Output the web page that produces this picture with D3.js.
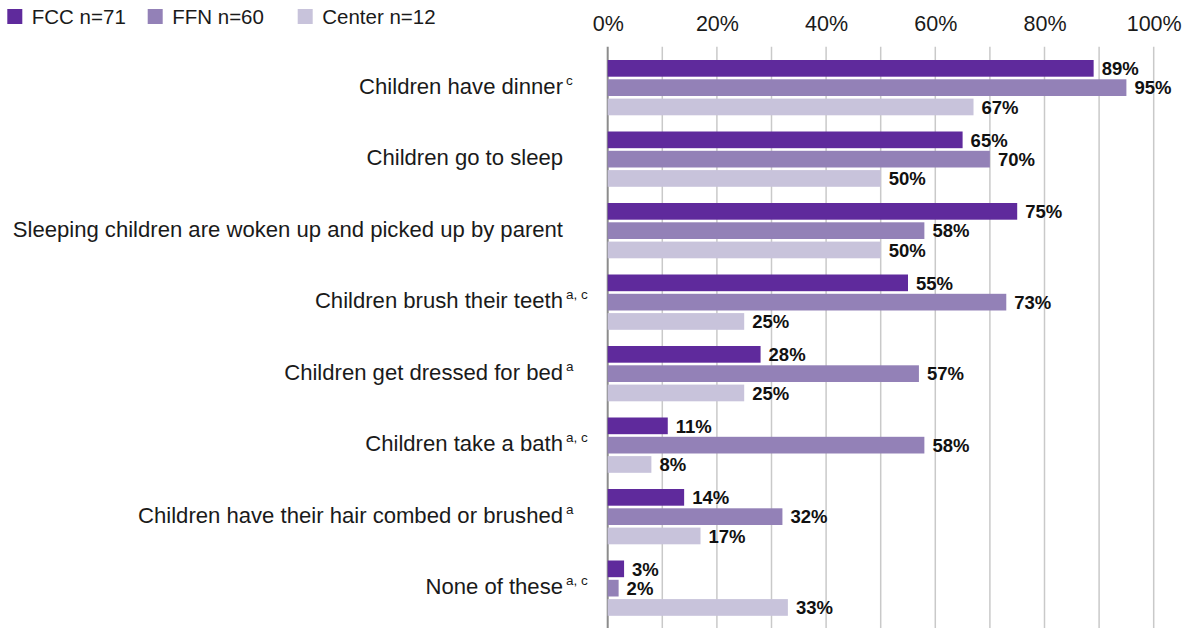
<!DOCTYPE html>
<html>
<head>
<meta charset="utf-8">
<script src="https://cdn.jsdelivr.net/npm/d3@7"></script>
<style>
  body { margin: 0; background: #fff; }
  svg { display: block; font-family: "Liberation Sans", Arial, sans-serif; }
</style>
</head>
<body>
<svg id="chart"></svg>
<script>
// data
var categories = [
  "Children have dinner",
  "Children go to sleep",
  "Sleeping children are woken up and picked up by parent",
  "Children brush their teeth",
  "Children get dressed for bed",
  "Children take a bath",
  "Children have their hair combed or brushed",
  "None of these"
];
var notes = ["c", "", "", "a, c", "a", "a, c", "a", "a, c"];
var seriesNames = ["FCC n=71", "FFN n=60", "Center n=12"];
var fcc    = [89, 65, 75, 55, 28, 11, 14, 3];
var ffn    = [95, 70, 58, 73, 57, 58, 32, 2];
var center = [67, 50, 50, 25, 25, 8, 17, 33];
var tickValues = [0, 20, 40, 60, 80, 100];
var gridValues = [0, 10, 20, 30, 40, 50, 60, 70, 80, 90, 100];

var colors = ["#5f2a9c", "#9381b7", "#c8c3db"];
var values = [fcc, ffn, center];

var W = 1190, H = 628;
var svg = d3.select("#chart").attr("width", W).attr("height", H);

var x = d3.scaleLinear().domain([0, 100]).range([607.7, 1153.7]);

// groups
var y = d3.scaleBand()
    .domain(d3.range(categories.length))
    .range([60, 615.8])
    .paddingInner(0.2266)
    .paddingOuter(0);
var yInner = d3.scaleBand()
    .domain(d3.range(seriesNames.length))
    .range([0, y.bandwidth()])
    .paddingInner(0.135);

// gridlines
var grid = svg.append("g");
grid.selectAll("line")
    .data(gridValues)
    .enter().append("line")
    .attr("x1", function(d) { return x(d); })
    .attr("x2", function(d) { return x(d); })
    .attr("y1", 46.7)
    .attr("y2", H)
    .attr("stroke", function(d) { return d === 0 ? "#8c8c8c" : "#c9c9c9"; })
    .attr("stroke-width", function(d) { return d === 0 ? 2 : 1.5; });

// top axis labels
var axis = svg.append("g")
    .attr("transform", "translate(0,31)")
    .call(d3.axisTop(x).tickValues(tickValues).tickSize(0).tickPadding(0)
          .tickFormat(function(d) { return d + "%"; }));
axis.select(".domain").remove();
axis.selectAll("text")
    .attr("dy", 0)
    .style("font-family", "'Liberation Sans', Arial, sans-serif")
    .style("font-size", "21.5px")
    .attr("fill", "#1a1a1a");

// bars
var groups = svg.append("g").selectAll("g")
    .data(categories)
    .enter().append("g")
    .attr("transform", function(d, i) { return "translate(0," + y(i) + ")"; });

groups.each(function(cat, i) {
  var g = d3.select(this);
  for (var s = 0; s < values.length; s++) {
    var v = values[s][i];
    g.append("rect")
      .attr("x", x(0))
      .attr("y", yInner(s))
      .attr("width", x(v) - x(0))
      .attr("height", yInner.bandwidth())
      .attr("fill", colors[s]);
    g.append("text")
      .attr("x", x(v) + 8)
      .attr("y", yInner(s) + yInner.bandwidth() / 2)
      .attr("dy", "0.36em")
      .style("font-size", "18.5px")
      .style("font-weight", "bold")
      .attr("fill", "#111")
      .text(v + "%");
  }
  // category label
  var cy = y.bandwidth() / 2 + 6;
  g.append("text")
    .attr("x", 563)
    .attr("y", cy)
    .attr("text-anchor", "end")
    .style("font-size", "22.1px")
    .attr("fill", "#1a1a1a")
    .text(cat);
  if (notes[i]) {
    g.append("text")
      .attr("x", 566)
      .attr("y", cy - 9)
      .style("font-size", "13.5px")
      .attr("fill", "#1a1a1a")
      .text(notes[i]);
  }
});

// legend
var legendX = [7.3, 147.7, 297.7];
var legend = svg.append("g");
seriesNames.forEach(function(name, s) {
  legend.append("rect")
    .attr("x", legendX[s])
    .attr("y", 9)
    .attr("width", 15)
    .attr("height", 15)
    .attr("fill", colors[s]);
  legend.append("text")
    .attr("x", legendX[s] + 24.5)
    .attr("y", 24)
    .style("font-size", "20.5px")
    .attr("fill", "#1a1a1a")
    .text(name);
});
</script>
</body>
</html>
